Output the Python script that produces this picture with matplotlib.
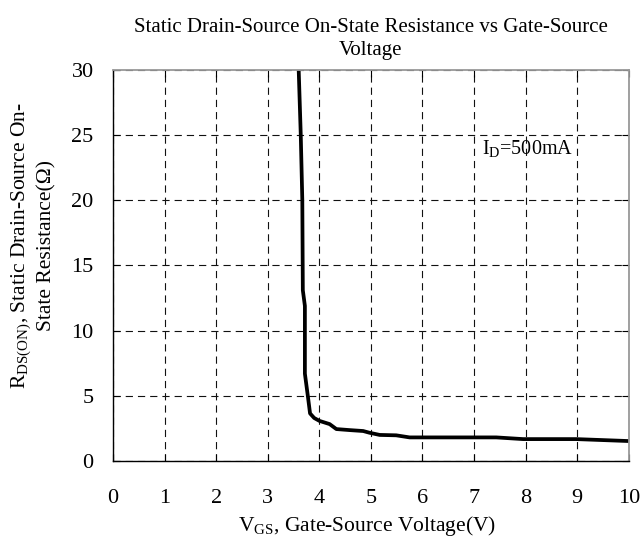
import matplotlib
matplotlib.use("Agg")
import matplotlib.pyplot as plt

plt.rcParams['font.family'] = ['Liberation Serif', 'DejaVu Serif']
plt.rcParams['mathtext.fontset'] = 'custom'
plt.rcParams['mathtext.rm'] = 'Liberation Serif'
plt.rcParams['mathtext.it'] = 'Liberation Serif:italic'

vgs = [3.60, 3.64, 3.67, 3.68, 3.72, 3.72, 3.78, 3.82, 3.90, 4.00, 4.20, 4.33,
       4.59, 4.85, 4.97, 5.17, 5.49, 5.75, 7.43, 7.95, 8.98, 10.0]
rds = [30.0, 25.0, 20.0, 13.1, 11.9, 6.7, 4.9, 3.65, 3.3, 3.08, 2.83, 2.45,
       2.37, 2.3, 2.17, 2.0, 1.97, 1.81, 1.81, 1.68, 1.68, 1.53]
xticks = list(range(0, 11))
yticks = [0, 5, 10, 15, 20, 25, 30]

fig = plt.figure(figsize=(6.41, 5.40), dpi=100)
ax = fig.add_axes([0.1763, 0.1463, 0.981 - 0.1763, 0.8704 - 0.1463])

ax.plot(vgs, rds, color='black', linewidth=2.7, solid_joinstyle='round')
ax.set_xlim(0, 10)
ax.set_ylim(0, 30)
ax.set_xticks(xticks)
ax.set_yticks(yticks)
ax.tick_params(direction='in', length=5, width=0.8, top=True, right=True,
               labelsize=16, colors='black')
ax.tick_params(axis='x', pad=20)
ax.tick_params(axis='y', pad=14)
ax.grid(True, color='#111111', linestyle=(0, (6.5, 4.5)), linewidth=0.8)
for s in ['left', 'bottom']:
    ax.spines[s].set_color('black')
    ax.spines[s].set_linewidth(1.0)
for s in ['top', 'right']:
    ax.spines[s].set_color('#999999')
    ax.spines[s].set_linewidth(1.3)

ax.set_title('Static Drain-Source On-State Resistance vs Gate-Source\nVoltage',
             fontsize=15, pad=11, linespacing=1.28)
ax.set_xlabel(r'V$_{\mathrm{GS}}$, Gate-Source Voltage(V)', fontsize=15.5)
ax.xaxis.set_label_coords(0.492, -0.136)
ax.xaxis.label.set_va('top')
ax.set_ylabel('R$_{\\mathrm{DS(ON)}}$, Static Drain-Source On-\nState Resistance(\u03a9)',
              fontsize=15.5, linespacing=1.25)
ax.yaxis.set_label_coords(-0.110, 0.551)
ax.text(7.15, 24.0, r'I$_{\mathrm{D}}$=500mA', fontsize=14.5, ha='left', va='center')

fig.savefig('out.png', dpi=100)
